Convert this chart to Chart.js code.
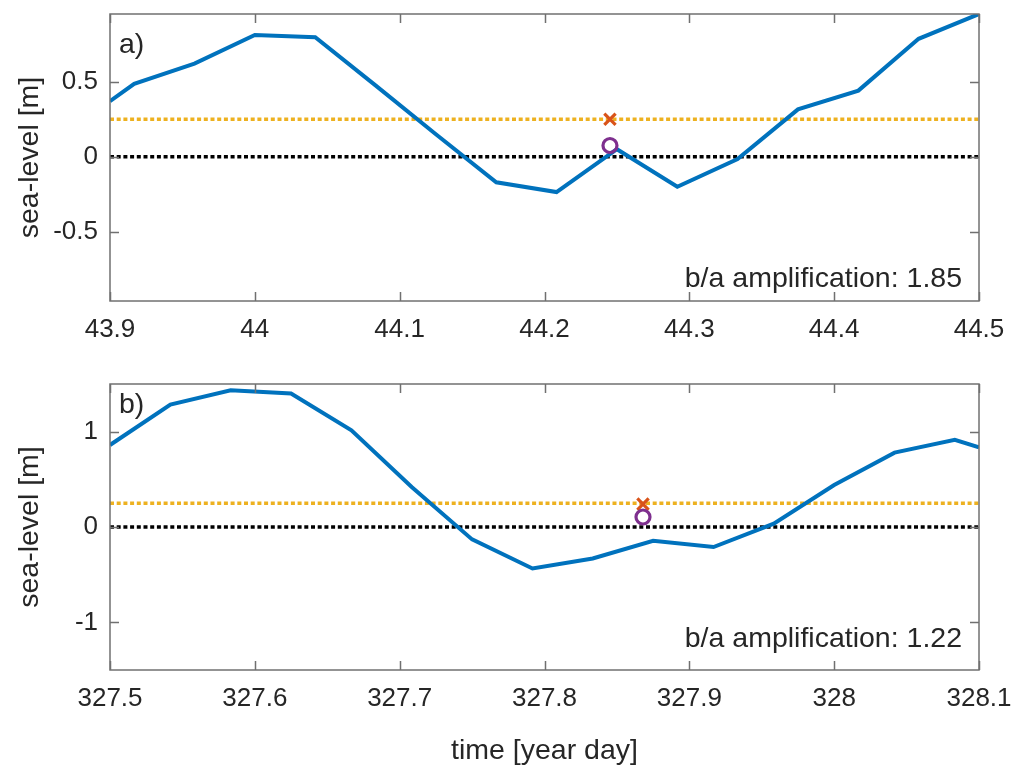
<!DOCTYPE html>
<html>
<head>
<meta charset="utf-8">
<script src="https://cdn.jsdelivr.net/npm/chart.js@4.4.1/dist/chart.umd.min.js"></script>
<style>
  body { margin: 0; background: #fff; width: 1011px; height: 769px; overflow: hidden; position: relative; }
  canvas { position: absolute; left: 0; }
  #chartA { top: 0; }
  #chartB { top: 345px; }
</style>
</head>
<body>
<canvas id="chartA" width="1011" height="345"></canvas>
<canvas id="chartB" width="1011" height="424"></canvas>
<script>
// panel a) - hourly sea level around year day 44
const timeA = [43.9, 43.9167, 43.9583, 44.0, 44.0417, 44.0833, 44.125, 44.1667, 44.2083, 44.25, 44.2917, 44.3333, 44.375, 44.4167, 44.4583, 44.5];
const levelA = [0.37, 0.485, 0.62, 0.81, 0.795, 0.475, 0.15, -0.17, -0.235, 0.05, -0.2, -0.015, 0.315, 0.44, 0.785, 0.95];
const markTimeA = [44.2452];
const circleA = [0.075];
const crossA = [0.25];
const xTicksA = [43.9, 44, 44.1, 44.2, 44.3, 44.4, 44.5];
const yTicksA = [-0.5, 0, 0.5];
const yRangeA = [-0.96, 0.95];

// panel b) - hourly sea level around year day 328
const timeB = [327.5, 327.5417, 327.5833, 327.625, 327.6667, 327.7083, 327.75, 327.7917, 327.8333, 327.875, 327.9167, 327.9583, 328.0, 328.0417, 328.0833, 328.1];
const levelB = [0.86, 1.285, 1.435, 1.4, 1.015, 0.42, -0.13, -0.435, -0.33, -0.145, -0.21, 0.035, 0.44, 0.78, 0.915, 0.835];
const markTimeB = [327.868];
const circleB = [0.105];
const crossB = [0.24];
const xTicksB = [327.5, 327.6, 327.7, 327.8, 327.9, 328, 328.1];
const yTicksB = [-1, 0, 1];
const yRangeB = [-1.5, 1.5];

const threshold = 0.25;
const ampA = 'b/a amplification: 1.85';
const ampB = 'b/a amplification: 1.22';

const FONT = '"Liberation Sans", Arial, Helvetica, sans-serif';
const TEXT = '#262626';

// box around the axes with inward ticks on all four sides, plus panel text
const boxPlugin = {
  id: 'box',
  afterDraw(chart, args, opts) {
    const { ctx, chartArea: a, scales } = chart;
    const len = 9;
    ctx.save();
    ctx.strokeStyle = '#707070';
    ctx.lineWidth = 1.5;
    ctx.strokeRect(a.left, a.top, a.right - a.left, a.bottom - a.top);
    ctx.beginPath();
    scales.x.ticks.forEach(t => {
      const px = Math.round(scales.x.getPixelForValue(t.value)) + 0.5;
      ctx.moveTo(px, a.bottom); ctx.lineTo(px, a.bottom - len);
      ctx.moveTo(px, a.top); ctx.lineTo(px, a.top + len);
    });
    scales.y.ticks.forEach(t => {
      const py = Math.round(scales.y.getPixelForValue(t.value)) + 0.5;
      ctx.moveTo(a.left, py); ctx.lineTo(a.left + len, py);
      ctx.moveTo(a.right, py); ctx.lineTo(a.right - len, py);
    });
    ctx.stroke();

    ctx.fillStyle = TEXT;
    ctx.font = '28.5px ' + FONT;
    ctx.textBaseline = 'alphabetic';
    ctx.textAlign = 'left';
    ctx.fillText(opts.tag, a.left + 9, a.top + opts.tagDy);
    ctx.textAlign = 'right';
    ctx.fillText(opts.note, a.right - 17, a.bottom - opts.noteDy);
    ctx.restore();
  }
};

// keep the plot box where it is: no extra room for overhanging tick labels
function noPadding(s) {
  s.paddingLeft = 0;
  s.paddingRight = 0;
  s.paddingTop = 0;
  s.paddingBottom = 0;
}

function makeChart(id, time, level, markTime, circle, cross, xTicks, yTicks, yRange, pad, xHeight, xTitle, tag, tagDy, note, noteDy) {
  const xmin = xTicks[0], xmax = xTicks[xTicks.length - 1];
  return new Chart(document.getElementById(id), {
    type: 'line',
    data: {
      datasets: [
        {
          label: 'ratio',
          data: markTime.map((t, i) => ({ x: t, y: circle[i] })),
          showLine: false,
          pointStyle: 'circle',
          pointRadius: 7,
          pointBorderWidth: 3.2,
          pointBorderColor: '#7E2F8E',
          pointBackgroundColor: 'rgba(0,0,0,0)'
        },
        {
          label: 'max',
          data: markTime.map((t, i) => ({ x: t, y: cross[i] })),
          showLine: false,
          pointStyle: 'crossRot',
          pointRadius: 8,
          pointBorderWidth: 3.2,
          pointBorderColor: '#D95319'
        },
        {
          label: 'sea level',
          data: time.map((t, i) => ({ x: t, y: level[i] })),
          borderColor: '#0072BD',
          borderWidth: 4,
          pointRadius: 0,
          tension: 0
        },
        {
          label: 'threshold',
          data: [{ x: xmin, y: threshold }, { x: xmax, y: threshold }],
          borderColor: '#EDB120',
          borderWidth: 3.5,
          borderDash: [4, 2.7],
          pointRadius: 0
        },
        {
          label: 'zero',
          data: [{ x: xmin, y: 0 }, { x: xmax, y: 0 }],
          borderColor: '#000000',
          borderWidth: 3.5,
          borderDash: [4, 2.7],
          pointRadius: 0
        }
      ]
    },
    options: {
      responsive: false,
      animation: false,
      devicePixelRatio: 1,
      layout: { padding: pad },
      plugins: {
        legend: { display: false },
        tooltip: { enabled: false },
        box: { tag: tag, tagDy: tagDy, note: note, noteDy: noteDy }
      },
      scales: {
        x: {
          type: 'linear',
          min: xmin,
          max: xmax,
          afterBuildTicks: s => { s.ticks = xTicks.map(v => ({ value: v })); },
          afterFit: s => { s.height = xHeight; noPadding(s); },
          grid: { display: false, drawTicks: false },
          border: { display: false },
          ticks: {
            padding: 13.5,
            color: TEXT,
            maxRotation: 0,
            autoSkip: false,
            font: { family: FONT, size: 26 },
            callback: v => String(v)
          },
          title: {
            display: !!xTitle,
            text: xTitle,
            color: TEXT,
            font: { family: FONT, size: 28.5 },
            padding: { top: 0, bottom: 1 }
          }
        },
        y: {
          type: 'linear',
          min: yRange[0],
          max: yRange[1],
          afterBuildTicks: s => { s.ticks = yTicks.map(v => ({ value: v })); },
          afterFit: s => { s.width = 110; noPadding(s); },
          grid: { display: false, drawTicks: false },
          border: { display: false },
          ticks: {
            padding: 12,
            color: TEXT,
            font: { family: FONT, size: 26 },
            callback: v => String(v)
          },
          title: {
            display: true,
            text: 'sea-level [m]',
            color: TEXT,
            font: { family: FONT, size: 28.5 },
            padding: { top: 13, bottom: 0 }
          }
        }
      }
    },
    plugins: [boxPlugin]
  });
}

makeChart('chartA', timeA, levelA, markTimeA, circleA, crossA, xTicksA, yTicksA, yRangeA,
  { left: 0, right: 32, top: 14, bottom: 0 }, 44, '', 'a)', 39, ampA, 14);
makeChart('chartB', timeB, levelB, markTimeB, circleB, crossB, xTicksB, yTicksB, yRangeB,
  { left: 0, right: 32, top: 39, bottom: 0 }, 99, 'time [year day]', 'b)', 29, ampB, 23);
</script>
</body>
</html>
